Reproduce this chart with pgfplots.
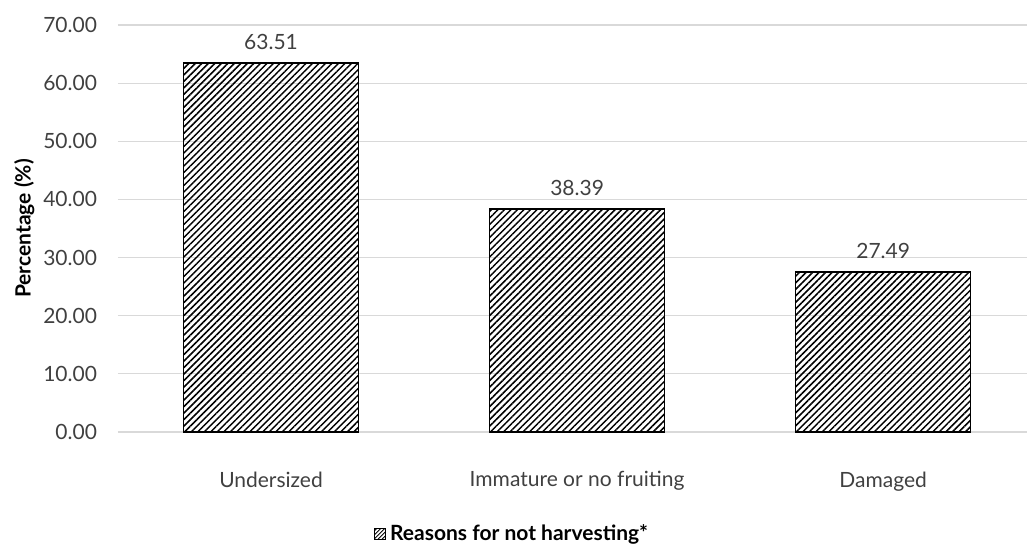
\documentclass[border=0pt]{standalone}
\usepackage{pgfplots}
\pgfplotsset{compat=1.18}
\usepackage{fontspec}
\setmainfont{Lato}
\usetikzlibrary{patterns.meta}
\definecolor{txt}{HTML}{404040}
\definecolor{gridc}{HTML}{D9D9D9}
\begin{document}
\begin{tikzpicture}
\begin{axis}[
  name=ax,
  scale only axis,
  width=454.5pt, height=203.5pt,
  ymin=0, ymax=70, ytick={0,10,...,70},
  xmin=-0.5, xmax=2.47,
  xtick={0,1,2},
  xticklabels={Undersized, Immature or no fruiting, Damaged},
  axis x line*=bottom,
  axis y line*=left,
  x axis line style={draw=gridc, line width=0.6pt, -},
  y axis line style={draw=none},
  tick style={draw=none},
  ymajorgrids, grid style={draw=gridc, line width=0.6pt},
  ticklabel style={font=\fontsize{10.5pt}{12pt}\selectfont, text=txt},
  yticklabel style={/pgf/number format/fixed, /pgf/number format/fixed zerofill, /pgf/number format/precision=2, /pgf/number format/assume math mode=true, xshift=-7pt},
  xticklabel style={yshift=-12pt},
  ylabel={\textbf{Percentage (\%)}},
  ylabel style={font=\fontsize{10.5pt}{12pt}\selectfont, text=black, yshift=-2.5pt},
  ybar, bar width=0.572,
  nodes near coords,
  every node near coord/.append style={font=\fontsize{10.5pt}{12pt}\selectfont, text=txt, /pgf/number format/fixed, /pgf/number format/fixed zerofill, /pgf/number format/precision=2, /pgf/number format/assume math mode=true, yshift=3pt},
  legend style={at={(0.4345,-0.25)}, anchor=center, draw=none, font=\fontsize{10.5pt}{12pt}\selectfont\bfseries, inner sep=0pt},
  legend image code/.code={\draw[pattern={Lines[angle=45,distance=1.4pt,line width=0.45pt]}, draw=black, line width=0.5pt] (0pt,-2.8pt) rectangle (5.6pt,2.8pt);},
  clip=false,
]
\addplot[draw=black, line width=0.8pt, pattern={Lines[angle=45,distance=2.3pt,line width=0.75pt]}]
  coordinates {(0,63.51) (1,38.39) (2,27.49)};
\addlegendentry{Reasons for not harvesting*}
\end{axis}
\pgfresetboundingbox
\path[use as bounding box] ([xshift=-59pt,yshift=-56.5pt]ax.south west) rectangle ([yshift=12.5pt]ax.north east);
\end{tikzpicture}
\end{document}
